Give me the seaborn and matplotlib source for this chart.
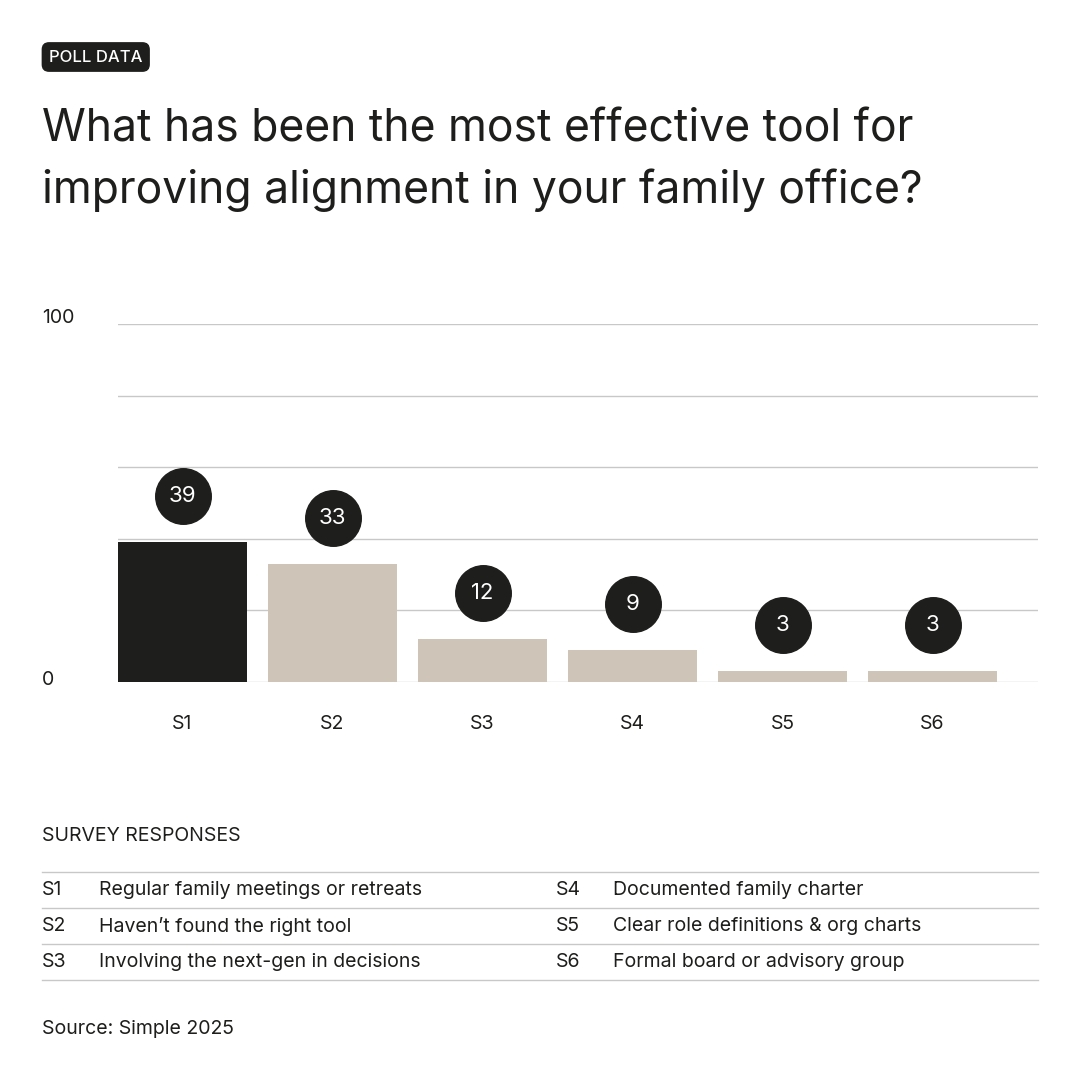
import matplotlib
matplotlib.use('Agg')
import matplotlib.pyplot as plt
import matplotlib.transforms as mtransforms
import seaborn as sns

# data
codes = ['S1', 'S2', 'S3', 'S4', 'S5', 'S6']
values = [39, 33, 12, 9, 3, 3]
responses = ['Regular family meetings or retreats', 'Haven\u2019t found the right tool',
             'Involving the next-gen in decisions', 'Documented family charter',
             'Clear role definitions & org charts', 'Formal board or advisory group']

DARK = '#1e1e1c'
BEIGE = '#cfc4b8'
W, H = 1081, 1080
FONT = 'Inter'
plt.rcParams['font.family'] = FONT


def fx(x):
    return x / W


def fy(y):
    return 1 - y / H


fig = plt.figure(figsize=(W / 100, H / 100), dpi=100)
fig.patch.set_facecolor('white')

ax = fig.add_axes([fx(118), fy(682), (1038 - 118) / W, (682 - 324) / H])
for v in range(0, 101, 20):
    ax.axhline(v, color='#c8c8c8', lw=1, zorder=1)
colors = [DARK] + [BEIGE] * (len(codes) - 1)
sns.barplot(x=codes, y=values, hue=codes, palette=colors, legend=False,
            width=0.86, ax=ax, saturation=1, zorder=3)
ax.set_xlim(-0.43, 5.703)
ax.set_ylim(0, 100)
for s in ax.spines.values():
    s.set_visible(False)
ax.set_yticks([])
ax.tick_params(axis='x', length=0, pad=24, labelsize=14, labelcolor=DARK)
ax.set_xlabel('')
ax.set_ylabel('')

off = mtransforms.offset_copy(ax.transData, fig=fig, y=46, units='dots')
for i, v in enumerate(values):
    ax.scatter(i, v, s=1600, color=DARK, transform=off, zorder=5, clip_on=False)
    ax.text(i, v, str(v), transform=off, ha='center', va='center',
            color='white', fontsize=16, zorder=6)

fig.text(fx(42), fy(318), '100', fontsize=14, color=DARK, va='center')
fig.text(fx(42), fy(680), '0', fontsize=14, color=DARK, va='center')

# badge + title
fig.text(fx(49), fy(57), 'POLL DATA', fontsize=12, color='white', va='center',
         fontweight='medium',
         bbox=dict(boxstyle='round,pad=0.4,rounding_size=0.4', fc=DARK, ec=DARK))
fig.text(fx(42), fy(130), 'What has been the most effective tool for',
         fontsize=32, color=DARK, va='center')
fig.text(fx(42), fy(190), 'improving alignment in your family office?',
         fontsize=32, color=DARK, va='center')

# responses table
fig.text(fx(42), fy(836), 'SURVEY RESPONSES', fontsize=14, color=DARK, va='center')
for y in [872, 908, 944, 980]:
    fig.add_artist(plt.Line2D([fx(42), fx(1038)], [fy(y), fy(y)], color='#c8c8c8', lw=1))
for i, (c, r) in enumerate(zip(codes, responses)):
    col, row = divmod(i, 3)
    x0 = 42 + col * 514
    y0 = 890 + row * 36
    fig.text(fx(x0), fy(y0), c, fontsize=14, color=DARK, va='center')
    fig.text(fx(x0 + 57), fy(y0), r, fontsize=14, color=DARK, va='center')

fig.text(fx(42), fy(1029), 'Source: Simple 2025', fontsize=14, color=DARK, va='center')

fig.savefig('out.png', dpi=100)
